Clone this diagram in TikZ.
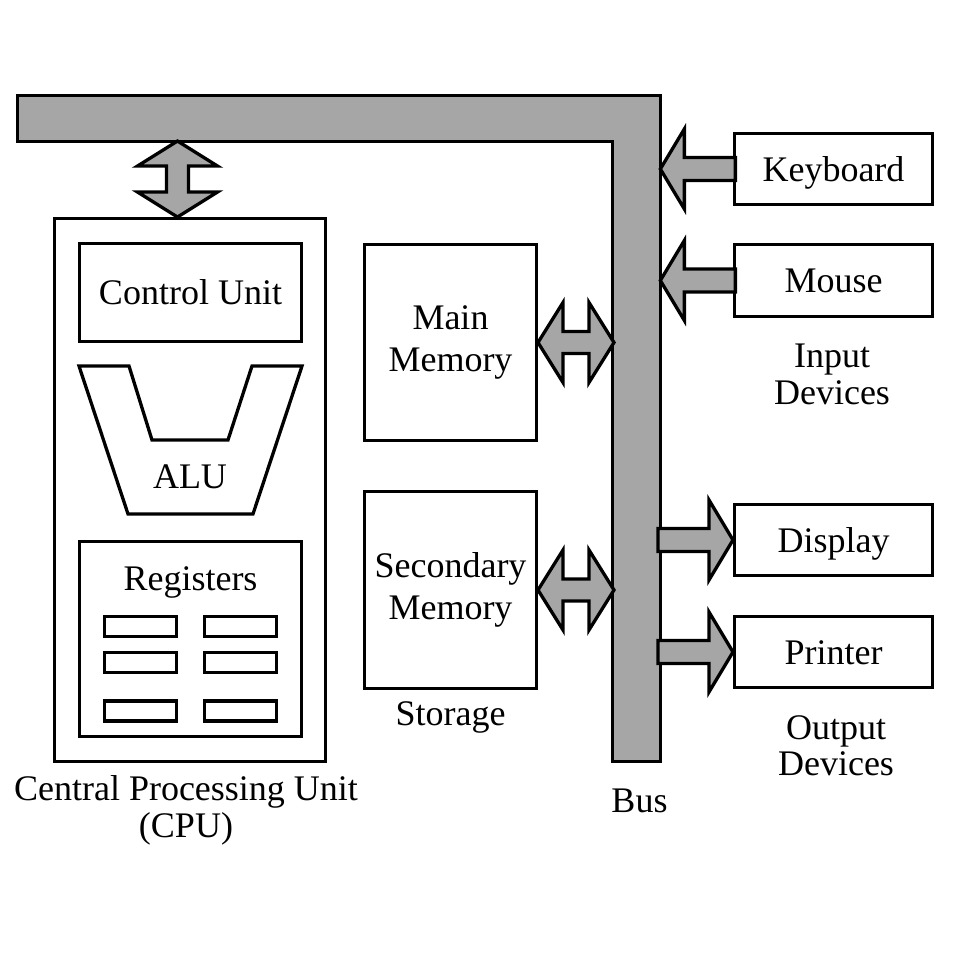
\documentclass[tikz,border=0pt]{standalone}
\usepackage{fontspec}
\setmainfont{Liberation Serif}

\tikzset{
    box/.style={draw, line width=3.3pt, inner sep=0pt},
    busfill/.style={draw, line width=3.3pt, fill=black!35, line join=miter},
    onearrow/.pic={\path[busfill] (0,0) -- (24,-40) -- (24,-11.5) -- (75,-11.5) -- (75,11.5) -- (24,11.5) -- (24,40) -- cycle;},
    twoway/.pic={\path[busfill] (0,0) -- (25,-40) -- (25,-11) -- (51,-11) -- (51,-40) -- (76,0) -- (51,40) -- (51,11) -- (25,11) -- (25,40) -- cycle;},
}

\begin{document}
\begin{tikzpicture}[x=1pt, y=-1pt, font=\fontsize{36}{36}\selectfont]
    \useasboundingbox (0,0) rectangle (958,958);

    \path[busfill] (17.65,95.65) -- (660.35,95.65) -- (660.35,761.35) -- (612.65,761.35) -- (612.65,141.35) -- (17.65,141.35) -- cycle;
    \coordinate (busR) at (660.35,0);

    \node[box, minimum width=270.6pt, minimum height=542.6pt] (cpu) at (190,490) {};
    \node[box, minimum width=221.7pt, minimum height=97.7pt, text height=24pt, text depth=0pt] (ctrl) at (190.5,292.5) {Control Unit};
    \draw[line width=3.3pt, line join=miter] (79,366) -- (129,366) -- (152,440) -- (228,440) -- (252,366) -- (302,366) -- (253,514) -- (128,514) -- cycle;
    \node[anchor=base] (alu) at (190,488) {ALU};
    \node[box, minimum width=221.7pt, minimum height=194.7pt] (regs) at (190.5,639) {};
    \node[anchor=base] (regslabel) at (190.5,590) {Registers};
    \foreach \cx/\i in {140.5/1,240.5/2}
        \foreach \cy/\j in {626.5/1,662.5/2,711/3}
            \node[box, minimum width=71.7pt, minimum height=20pt] (reg\i\j) at (\cx,\cy) {};
    \node[align=center, font=\fontsize{36}{37}\selectfont] (cpulabel) at (186,810) {Central Processing Unit\\(CPU)};

    \node[box, minimum width=171.7pt, minimum height=195.7pt, align=center, font=\fontsize{36}{42}\selectfont] (mainmem) at (450.5,342.5) {Main\\Memory};
    \node[box, minimum width=171.7pt, minimum height=196.7pt, align=center, font=\fontsize{36}{42}\selectfont] (secmem) at (450.5,590) {Secondary\\Memory};
    \node[anchor=base] (storage) at (450.5,725) {Storage};
    \node[anchor=base] (bus) at (639.5,812) {Bus};

    \node[box, minimum width=197.7pt, minimum height=70.7pt, text height=24pt, text depth=0pt] (kbd) at (833.5,169) {Keyboard};
    \node[box, minimum width=197.7pt, minimum height=71.7pt, text height=24pt, text depth=0pt] (mouse) at (833.5,280.5) {Mouse};
    \node[align=center, font=\fontsize{36}{37}\selectfont] (input) at (832,374) {Input\\Devices};
    \node[box, minimum width=197.7pt, minimum height=70.7pt, text height=24pt, text depth=0pt] (disp) at (833.5,540) {Display};
    \node[box, minimum width=197.7pt, minimum height=70.7pt, text height=24pt, text depth=0pt] (prn) at (833.5,652) {Printer};
    \node[align=center] (output) at (836,746) {Output\\Devices};

    \pic at (busR |- kbd.west) {onearrow};
    \pic at (busR |- mouse.west) {onearrow};
    \pic[rotate=180] at (disp.west) {onearrow};
    \pic[rotate=180] at (prn.west) {onearrow};
    \pic at (mainmem.east) {twoway};
    \pic at (secmem.east) {twoway};
    \pic[rotate=90] at ([xshift=-12.5pt]cpu.north) {twoway};
\end{tikzpicture}
\end{document}
